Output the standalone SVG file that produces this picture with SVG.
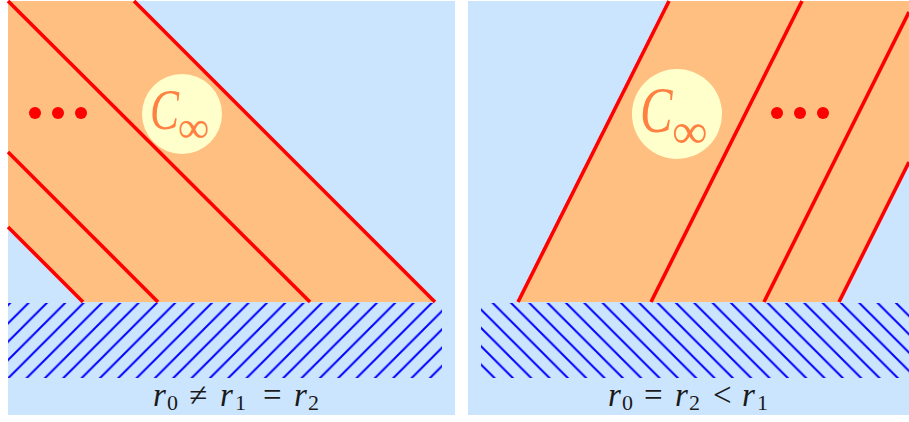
<svg xmlns="http://www.w3.org/2000/svg" width="909" height="422" viewBox="0 0 909 422">
  <style>
    .bg { fill: #cce5ff; }
    .band { fill: #ffbf80; }
    .red { stroke: #ff0000; stroke-width: 3.6; fill: none; }
    .dot { fill: #ff0000; }
    .halo { fill: #ffffcc; }
    .cal { font-family: "Liberation Serif", serif; font-style: italic; fill: #ff8040; }
    .inf { font-family: "Liberation Serif", serif; fill: #ff8040; }
    .lab { font-family: "Liberation Serif", serif; font-size: 33px; fill: #1a1a1a; }
    .it { font-style: italic; }
    .sub { font-size: 22px; }
  </style>
  <defs>
    <pattern id="hatchL" patternUnits="userSpaceOnUse" x="1.5" y="0" width="18.33" height="18.33">
      <path d="M-2,2 L2,-2 M-1,19.33 L19.33,-1 M16.33,20.33 L20.33,16.33" stroke="#0000ff" stroke-width="2"/>
    </pattern>
    <pattern id="hatchR" patternUnits="userSpaceOnUse" x="6.5" y="0" width="18.33" height="18.33">
      <path d="M-1,-1 L19.33,19.33 M16.33,-2 L20.33,2 M-2,16.33 L2,20.33" stroke="#0000ff" stroke-width="2"/>
    </pattern>
  </defs>
  <rect width="909" height="422" fill="#ffffff"/>

  <g id="panel-left">
    <rect class="bg" x="8" y="1" width="447" height="414"/>
    <polygon class="band" points="8,1 135,1 435,302 83,302 8,227"/>
    <rect x="8" y="303" width="434" height="75" fill="url(#hatchL)"/>
    <g id="lines-left">
      <line class="red" x1="134" y1="1" x2="435" y2="302"/>
      <line class="red" x1="8" y1="1" x2="310" y2="302"/>
      <line class="red" x1="8" y1="152" x2="158" y2="302"/>
      <line class="red" x1="8" y1="227" x2="83" y2="302"/>
    </g>
    <g id="dots-left">
      <circle class="dot" cx="35" cy="113" r="6"/>
      <circle class="dot" cx="58" cy="113" r="6"/>
      <circle class="dot" cx="81" cy="113" r="6"/>
    </g>
    <g id="cinf-left">
      <circle class="halo" cx="182" cy="114" r="40"/>
      <text class="cal" font-size="58" transform="translate(150,129) scale(0.75,1)">C</text>
      <text class="inf" font-size="44" x="178" y="142">∞</text>
    </g>
    <text class="lab" y="406">
      <tspan class="it" x="153">r</tspan><tspan class="sub" x="167" y="410">0</tspan><tspan x="189" y="406">≠</tspan><tspan class="it" x="220">r</tspan><tspan class="sub" x="235" y="410">1</tspan><tspan x="263" y="406">=</tspan><tspan class="it" x="294">r</tspan><tspan class="sub" x="308" y="410">2</tspan>
    </text>
  </g>

  <g id="panel-right">
    <rect class="bg" x="468" y="1" width="441" height="414"/>
    <polygon class="band" points="518,302 669,1 909,1 909,162 839,302"/>
    <rect x="481" y="303" width="428" height="75" fill="url(#hatchR)"/>
    <g id="lines-right">
      <line class="red" x1="518" y1="302" x2="669" y2="1"/>
      <line class="red" x1="651" y1="302" x2="802" y2="1"/>
      <line class="red" x1="764" y1="302" x2="909" y2="12"/>
      <line class="red" x1="839" y1="302" x2="909" y2="162"/>
    </g>
    <g id="dots-right">
      <circle class="dot" cx="777" cy="113" r="6"/>
      <circle class="dot" cx="800" cy="113" r="6"/>
      <circle class="dot" cx="823" cy="113" r="6"/>
    </g>
    <g id="cinf-right">
      <circle class="halo" cx="677" cy="114" r="45"/>
      <text class="cal" font-size="65" transform="translate(640,132) scale(0.75,1)">C</text>
      <text class="inf" font-size="50" x="672" y="148">∞</text>
    </g>
    <text class="lab" y="406">
      <tspan class="it" x="608">r</tspan><tspan class="sub" x="622" y="410">0</tspan><tspan x="644" y="406">=</tspan><tspan class="it" x="675">r</tspan><tspan class="sub" x="689" y="410">2</tspan><tspan x="713" y="406">&lt;</tspan><tspan class="it" x="742">r</tspan><tspan class="sub" x="757" y="410">1</tspan>
    </text>
  </g>
</svg>
